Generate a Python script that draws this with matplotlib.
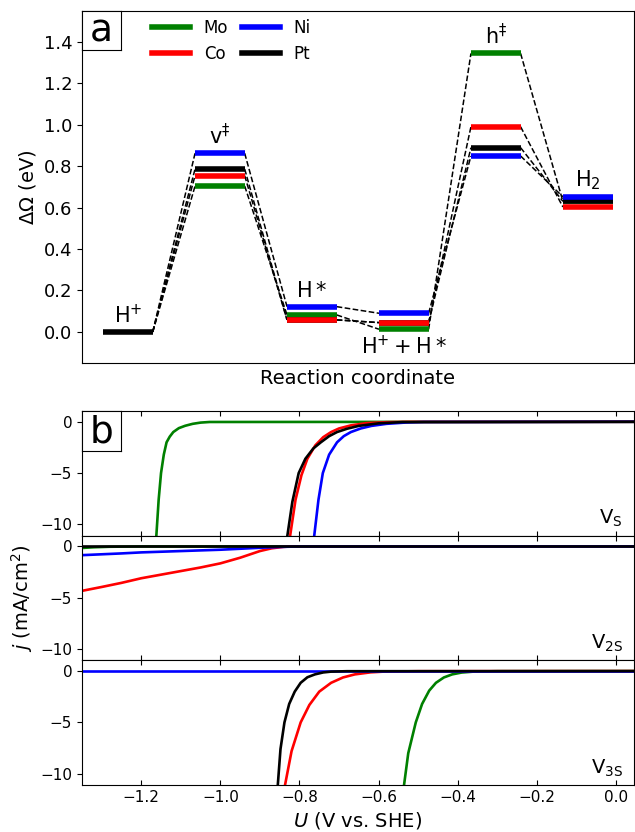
import numpy as np
import matplotlib
matplotlib.use("Agg")
import matplotlib.pyplot as plt
from matplotlib.lines import Line2D

# ---- panel a: free energy levels (eV) ----
state_labels = [r"$\mathrm{H^{+}}$", r"$\mathrm{v^{\ddagger}}$", r"$\mathrm{H*}$",
                r"$\mathrm{H^{+} + H*}$", r"$\mathrm{h^{\ddagger}}$", r"$\mathrm{H_2}$"]
E_Mo = [0.0, 0.704, 0.082, 0.013, 1.344, 0.630]
E_Co = [0.0, 0.754, 0.058, 0.045, 0.990, 0.603]
E_Ni = [0.0, 0.862, 0.122, 0.090, 0.849, 0.652]
E_Pt = [0.0, 0.786, 0.058, 0.045, 0.889, 0.630]

# ---- panel b: polarisation curves, U (V vs SHE) and j (mA/cm2) ----
# V_S
US_Mo = [-1.166, -1.162, -1.156, -1.15, -1.143, -1.136, -1.128, -1.119, -1.105, -1.089, -1.07, -1.05, -1.027, 0.05]
jS_Mo = [-12.5, -11.2, -7.6, -5.0, -3.2, -2.0, -1.45, -1.0, -0.62, -0.39, -0.2, -0.08, -0.02, 0.0]
US_Co = [-0.83, -0.824, -0.81, -0.795, -0.78, -0.76, -0.74, -0.72, -0.70, -0.67, -0.63, -0.58, -0.53, 0.05]
jS_Co = [-12.5, -11.2, -7.6, -5.2, -3.6, -2.3, -1.5, -1.0, -0.65, -0.35, -0.13, -0.04, -0.01, 0.0]
US_Ni = [-0.768, -0.763, -0.752, -0.741, -0.725, -0.705, -0.688, -0.67, -0.645, -0.618, -0.58, -0.53, -0.485, 0.05]
jS_Ni = [-12.5, -11.2, -7.6, -5.0, -3.2, -2.0, -1.4, -1.0, -0.65, -0.4, -0.2, -0.07, -0.02, 0.0]
US_Pt = [-0.837, -0.831, -0.818, -0.802, -0.785, -0.765, -0.746, -0.725, -0.705, -0.68, -0.65, -0.60, -0.54, 0.05]
jS_Pt = [-12.5, -11.2, -7.8, -5.0, -3.6, -2.6, -2.0, -1.4, -1.0, -0.68, -0.4, -0.15, -0.03, 0.0]
# V_2S
U2_Mo = [-1.35, -1.32, -1.28, -1.2, 0.05]
j2_Mo = [-0.15, -0.08, -0.03, 0.0, 0.0]
U2_Co = [-1.35, -1.3, -1.25, -1.2, -1.15, -1.1, -1.05, -1.0, -0.95, -0.9, -0.87, -0.84, -0.82, 0.05]
j2_Co = [-4.33, -3.95, -3.55, -3.1, -2.75, -2.4, -2.05, -1.65, -1.1, -0.45, -0.18, -0.04, 0.0, 0.0]
U2_Ni = [-1.35, -1.25, -1.2, -1.1, -1.0, -0.9, -0.85, -0.8, 0.05]
j2_Ni = [-0.85, -0.68, -0.58, -0.45, -0.32, -0.13, -0.05, 0.0, 0.0]
U2_Pt = [-1.35, 0.05]
j2_Pt = [0.0, 0.0]
# V_3S
U3_Mo = [-0.54, -0.536, -0.525, -0.506, -0.49, -0.472, -0.455, -0.435, -0.414, -0.39, -0.36, -0.3, 0.05]
j3_Mo = [-12.5, -11.2, -8.0, -5.0, -3.2, -1.9, -1.14, -0.62, -0.32, -0.14, -0.05, -0.01, 0.0]
U3_Co = [-0.842, -0.837, -0.82, -0.797, -0.775, -0.75, -0.72, -0.69, -0.66, -0.62, -0.587, -0.5, 0.05]
j3_Co = [-12.5, -11.2, -7.8, -5.0, -3.3, -2.0, -1.14, -0.62, -0.32, -0.12, -0.05, -0.01, 0.0]
U3_Ni = [-1.35, 0.05]
j3_Ni = [0.0, 0.0]
U3_Pt = [-0.858, -0.855, -0.848, -0.838, -0.826, -0.812, -0.797, -0.78, -0.761, -0.74, -0.72, -0.68, 0.05]
j3_Pt = [-12.5, -11.2, -7.6, -5.0, -3.2, -2.0, -1.14, -0.6, -0.32, -0.13, -0.05, -0.01, 0.0]

U_ticks = [-1.2, -1.0, -0.8, -0.6, -0.4, -0.2, 0.0]
U_ticklabels = ["\u22121.2", "\u22121.0", "\u22120.8", "\u22120.6", "\u22120.4", "\u22120.2", "0.0"]

colors = {"Mo": "green", "Co": "red", "Ni": "blue", "Pt": "black"}
levels = {"Mo": E_Mo, "Co": E_Co, "Ni": E_Ni, "Pt": E_Pt}


def panel_tag(ax, letter, h_frac):
    # small boxed letter sitting in the top-left corner of an axes
    tag = ax.inset_axes([0, 1 - h_frac, 39 / 552, h_frac])
    tag.set_xticks([])
    tag.set_yticks([])
    tag.set_facecolor("white")
    tag.text(0.5, 0.2, letter, ha="center", va="baseline", fontsize=27,
             transform=tag.transAxes)
    tag.set_zorder(5)


fig = plt.figure(figsize=(6.35, 8.32), dpi=100)

# ---------------- panel a ----------------
ax = fig.add_axes([0.129, 0.5637, 0.869, 0.4234])
hw = 0.27  # half width of a level bar
for metal in ["Mo", "Pt", "Co", "Ni"]:
    E = levels[metal]
    for i in range(1, len(E)):
        ax.plot([i - 1 + hw, i - hw], [E[i - 1], E[i]], "k--", lw=1.1, zorder=1)
        ax.plot([i - hw, i + hw], [E[i], E[i]], color=colors[metal], lw=4, zorder=2,
                solid_capstyle="butt")
# H+ reference level
ax.plot([-hw, hw], [E_Pt[0], E_Pt[0]], color="black", lw=4, zorder=3, solid_capstyle="butt")

allE = np.array([E_Mo, E_Co, E_Ni, E_Pt])
for i, lab in enumerate(state_labels):
    if i == 3:
        ax.text(i, allE[:, i].min() - 0.025, lab, ha="center", va="top", fontsize=15)
    else:
        ax.text(i, allE[:, i].max() + 0.025, lab, ha="center", va="bottom", fontsize=15)

ax.set_xlim(-0.5, 5.5)
ax.set_ylim(-0.15, 1.55)
ax.set_xticks([])
ax.set_yticks(np.arange(0, 1.41, 0.2))
ax.tick_params(axis="y", labelsize=13)
ax.set_ylabel(r"$\Delta\Omega$ (eV)", fontsize=14)
ax.set_xlabel("Reaction coordinate", fontsize=14)

handles = [Line2D([], [], color=colors[m], lw=4) for m in ["Mo", "Co", "Ni", "Pt"]]
ax.legend(handles, ["Mo", "Co", "Ni", "Pt"], ncol=2, loc="upper left",
          bbox_to_anchor=(0.1, 1.02), frameon=False, fontsize=12,
          handlelength=2.3, columnspacing=0.8)

panel_tag(ax, "a", 39 / 352)

# ---------------- panel b ----------------
curves = [
    {"Mo": (US_Mo, jS_Mo), "Co": (US_Co, jS_Co), "Ni": (US_Ni, jS_Ni), "Pt": (US_Pt, jS_Pt)},
    {"Mo": (U2_Mo, j2_Mo), "Co": (U2_Co, j2_Co), "Ni": (U2_Ni, j2_Ni), "Pt": (U2_Pt, j2_Pt)},
    {"Mo": (U3_Mo, j3_Mo), "Co": (U3_Co, j3_Co), "Ni": (U3_Ni, j3_Ni), "Pt": (U3_Pt, j3_Pt)},
]
panel_names = [r"$\mathrm{V_S}$", r"$\mathrm{V_{2S}}$", r"$\mathrm{V_{3S}}$"]

h = (0.506 - 0.0565) / 3
axs = []
for k in range(3):
    bax = fig.add_axes([0.129, 0.506 - (k + 1) * h, 0.869, h])
    axs.append(bax)
    for metal in ["Mo", "Co", "Ni", "Pt"]:
        U, j = curves[k][metal]
        bax.plot(U, j, color=colors[metal], lw=1.9)
    bax.set_xlim(-1.35, 0.045)
    bax.set_ylim(-11.1, 1.05)
    bax.set_yticks([0, -5, -10])
    bax.set_xticks(U_ticks)
    bax.tick_params(axis="x", direction="in", top=True, bottom=True, labelsize=11)
    bax.tick_params(axis="y", labelsize=11)
    if k < 2:
        bax.tick_params(axis="x", labelbottom=False)
    bax.text(0.98, 0.05, panel_names[k], transform=bax.transAxes, ha="right",
             va="bottom", fontsize=14)

axs[1].set_ylabel(r"$j$ (mA/cm$^2$)", fontsize=14)
axs[2].set_xlabel(r"$U$ (V vs. SHE)", fontsize=14)
axs[2].set_xticklabels(U_ticklabels)

panel_tag(axs[0], "b", 40 / 125)

fig.savefig("out.png", dpi=100)
